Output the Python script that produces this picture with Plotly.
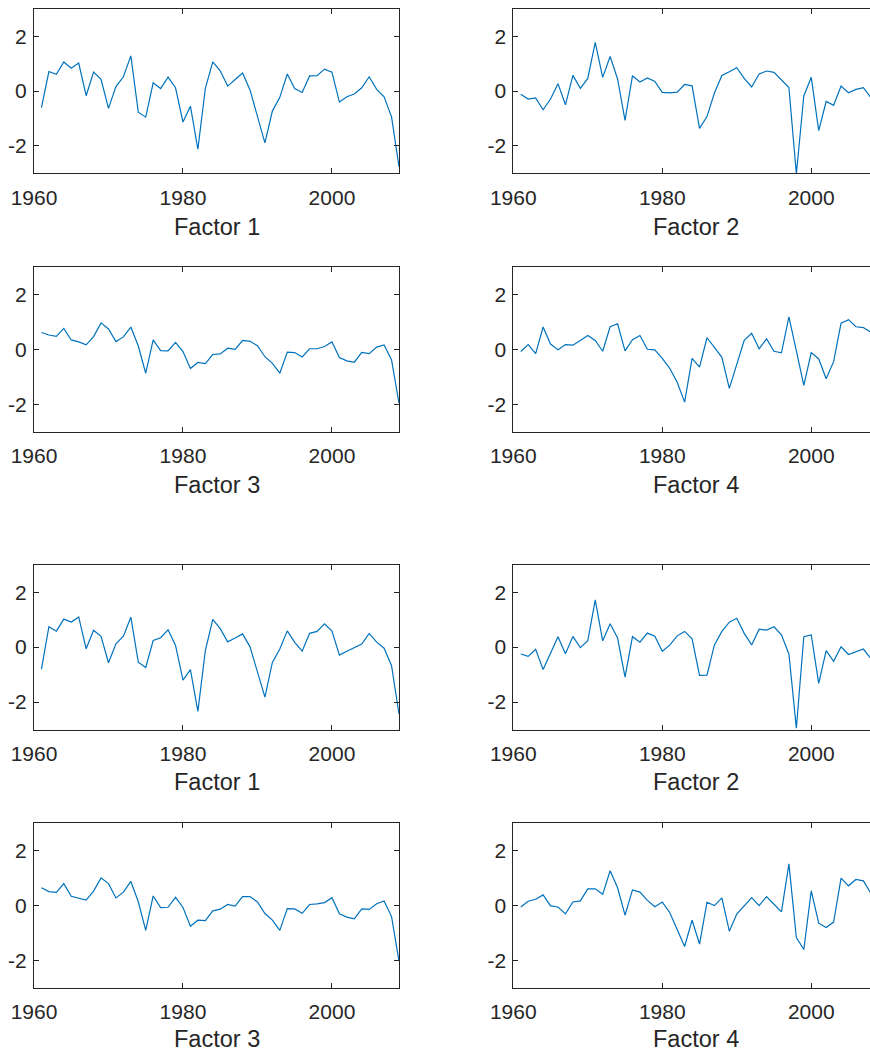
import plotly.graph_objects as go

# Annual factor estimates, 1961-2009
years = list(range(1961, 2010))

factor1_a = [-0.60, 0.71, 0.61, 1.06, 0.83, 1.02, -0.17, 0.69, 0.43, -0.63,
             0.16, 0.52, 1.28, -0.77, -0.95, 0.30, 0.09, 0.51, 0.12, -1.13,
             -0.55, -2.12, 0.10, 1.06, 0.74, 0.18, 0.42, 0.66, 0.04, -0.89,
             -1.89, -0.73, -0.23, 0.62, 0.09, -0.05, 0.55, 0.56, 0.80, 0.69,
             -0.40, -0.21, -0.11, 0.12, 0.52, 0.06, -0.21, -0.94, -2.76]

factor2_a = [-0.12, -0.29, -0.25, -0.68, -0.29, 0.27, -0.50, 0.57, 0.10, 0.46,
             1.77, 0.50, 1.26, 0.44, -1.07, 0.56, 0.33, 0.48, 0.35, -0.05,
             -0.07, -0.04, 0.24, 0.19, -1.36, -0.93, -0.07, 0.57, 0.70, 0.85,
             0.46, 0.15, 0.62, 0.73, 0.68, 0.40, 0.13, -3.02, -0.18, 0.50,
             -1.44, -0.38, -0.52, 0.18, -0.06, 0.06, 0.12, -0.24, -0.40]

factor3_a = [0.61, 0.52, 0.47, 0.76, 0.34, 0.27, 0.16, 0.46, 0.96, 0.74,
             0.28, 0.45, 0.81, 0.12, -0.87, 0.34, -0.05, -0.06, 0.25, -0.08,
             -0.70, -0.48, -0.52, -0.19, -0.17, 0.04, 0.00, 0.32, 0.29, 0.13,
             -0.27, -0.51, -0.87, -0.10, -0.12, -0.28, 0.02, 0.02, 0.10, 0.27,
             -0.30, -0.42, -0.47, -0.11, -0.16, 0.08, 0.16, -0.39, -1.96]

factor4_a = [-0.08, 0.17, -0.16, 0.81, 0.19, -0.02, 0.17, 0.15, 0.32, 0.50,
             0.32, -0.07, 0.82, 0.93, -0.06, 0.35, 0.50, 0.00, -0.02, -0.33,
             -0.69, -1.20, -1.92, -0.33, -0.65, 0.42, 0.07, -0.29, -1.42, -0.52,
             0.33, 0.58, 0.02, 0.38, -0.07, -0.13, 1.18, -0.06, -1.31, -0.12,
             -0.35, -1.07, -0.45, 0.95, 1.08, 0.82, 0.79, 0.62, 0.45]

factor1_b = [-0.80, 0.74, 0.58, 1.02, 0.91, 1.10, -0.06, 0.61, 0.39, -0.57,
             0.12, 0.40, 1.09, -0.55, -0.74, 0.24, 0.34, 0.63, 0.06, -1.20,
             -0.82, -2.34, -0.13, 1.01, 0.67, 0.19, 0.33, 0.48, 0.01, -0.88,
             -1.82, -0.56, -0.07, 0.59, 0.17, -0.15, 0.50, 0.57, 0.85, 0.58,
             -0.29, -0.15, -0.01, 0.11, 0.50, 0.18, -0.04, -0.68, -2.44]

factor2_b = [-0.25, -0.34, -0.08, -0.82, -0.22, 0.38, -0.24, 0.39, -0.02, 0.23,
             1.72, 0.23, 0.85, 0.33, -1.09, 0.38, 0.18, 0.51, 0.40, -0.15,
             0.07, 0.41, 0.57, 0.30, -1.03, -1.02, 0.08, 0.57, 0.91, 1.05,
             0.50, 0.08, 0.65, 0.62, 0.74, 0.45, -0.25, -2.95, 0.38, 0.44,
             -1.32, -0.13, -0.52, 0.01, -0.27, -0.16, -0.07, -0.42, -0.55]

factor3_b = [0.65, 0.51, 0.48, 0.80, 0.34, 0.28, 0.20, 0.53, 1.01, 0.80,
             0.28, 0.49, 0.88, 0.14, -0.90, 0.35, -0.07, -0.06, 0.30, -0.07,
             -0.75, -0.53, -0.55, -0.19, -0.13, 0.04, -0.02, 0.33, 0.33, 0.13,
             -0.29, -0.53, -0.90, -0.11, -0.12, -0.28, 0.04, 0.06, 0.11, 0.29,
             -0.30, -0.42, -0.48, -0.12, -0.14, 0.07, 0.17, -0.40, -2.02]

factor4_b = [-0.05, 0.16, 0.23, 0.39, -0.01, -0.05, -0.30, 0.13, 0.17, 0.61,
             0.61, 0.41, 1.27, 0.65, -0.35, 0.57, 0.49, 0.19, -0.04, 0.13,
             -0.25, -0.86, -1.49, -0.53, -1.40, 0.12, 0.00, 0.28, -0.93, -0.31,
             0.01, 0.29, 0.00, 0.33, 0.05, -0.23, 1.52, -1.16, -1.60, 0.54,
             -0.64, -0.80, -0.60, 1.00, 0.72, 0.95, 0.90, 0.45, 0.30]

titles = ["Factor 1", "Factor 2", "Factor 3", "Factor 4",
          "Factor 1", "Factor 2", "Factor 3", "Factor 4"]
series = [factor1_a, factor2_a, factor3_a, factor4_a,
          factor1_b, factor2_b, factor3_b, factor4_b]

y_ticks = [-2, 0, 2]
y_tick_text = ["-2", "0", "2"]
x_ticks = [1960, 1980, 2000]
x_tick_text = ["1960", "1980", "2000"]

W, H = 870, 1050
LINE_BLUE = "#0072BD"
AX_GRAY = "#262626"
FONT = "Liberation Sans, Arial, sans-serif"

# panel geometry in pixels
col_x = [(34.0, 399.0), (513.3, 870.0)]
row_y = [(8.7, 173.4), (266.8, 431.8), (564.7, 729.5), (823.2, 988.0)]
label_y = [226.5, 484.5, 782.0, 1039.0]
px_per_year = (399.0 - 34.0) / 49.0
x_ranges = [[1960, 2009], [1960, 1960 + (870.0 - 513.3) / px_per_year]]
title_cx = [(34.0 + 399.0) / 2, (513.3 + 513.3 + 49 * px_per_year) / 2]

fig = go.Figure()
layout = dict(
    width=W, height=H, margin=dict(l=0, r=0, t=0, b=0, autoexpand=False),
    paper_bgcolor="white", plot_bgcolor="white", showlegend=False,
    font=dict(family=FONT, color=AX_GRAY, size=21),
    annotations=[],
)

for i, (vals, title) in enumerate(zip(series, titles)):
    r, c = divmod(i, 2)
    n = i + 1
    xa = "x" if n == 1 else f"x{n}"
    ya = "y" if n == 1 else f"y{n}"
    fig.add_trace(go.Scatter(x=years, y=vals, mode="lines", xaxis=xa, yaxis=ya,
                             line=dict(color=LINE_BLUE, width=1.2),
                             hoverinfo="skip"))
    x0, x1 = col_x[c]
    y0, y1 = row_y[r]
    layout[f"xaxis{n}"] = dict(
        domain=[x0 / W, x1 / W], range=x_ranges[c], anchor=ya,
        tickvals=x_ticks, ticktext=x_tick_text, ticks="inside", ticklen=5,
        tickcolor=AX_GRAY, showline=True, linecolor=AX_GRAY, linewidth=1,
        mirror="ticks", showgrid=False, zeroline=False, automargin=False,
        tickfont=dict(size=21, color=AX_GRAY, family=FONT),
        ticklabelstandoff=5,
    )
    layout[f"yaxis{n}"] = dict(
        domain=[1 - y1 / H, 1 - y0 / H], range=[-3, 3], anchor=xa,
        tickvals=y_ticks, ticktext=y_tick_text, ticks="inside", ticklen=5,
        tickcolor=AX_GRAY, showline=True, linecolor=AX_GRAY, linewidth=1,
        mirror="ticks" if c == 0 else False, showgrid=False, zeroline=False,
        automargin=False,
        tickfont=dict(size=21, color=AX_GRAY, family=FONT),
        ticklabelstandoff=2,
    )
    layout["annotations"].append(dict(
        text=title, xref="paper", yref="paper",
        x=title_cx[c] / W, y=1 - label_y[r] / H,
        xanchor="center", yanchor="middle", showarrow=False,
        font=dict(size=23.5, color=AX_GRAY, family=FONT),
    ))

fig.update_layout(**layout)
fig.write_html("out.html")
